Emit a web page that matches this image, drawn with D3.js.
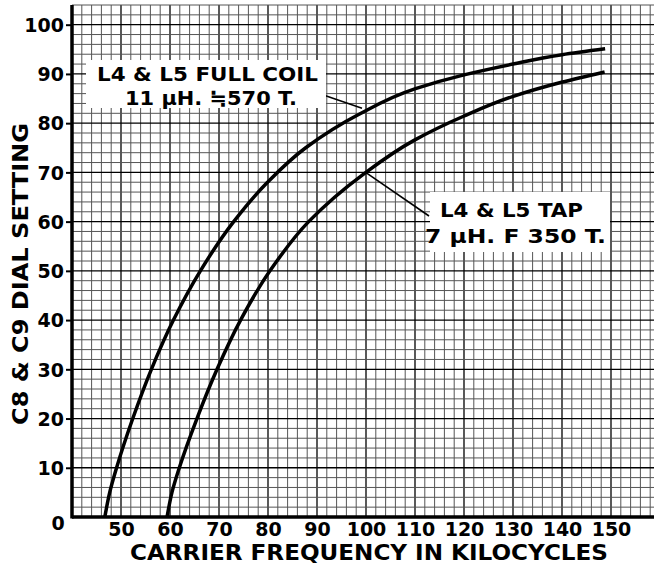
<!DOCTYPE html>
<html><head><meta charset="utf-8">
<script src="https://cdn.jsdelivr.net/npm/d3@7"></script>
<style>body{margin:0;background:#fff}svg{display:block}text{font-family:"DejaVu Sans",sans-serif;font-weight:bold;fill:#000}</style>
</head><body><div id="chart"></div>
<script>
// Data
const fullCoilFreq = [46.7, 47.7, 49.1, 52.4, 56.2, 60.7, 66.2, 73.0, 79.9, 87.7, 98.4, 110.1, 120, 130, 140, 148.8];
const fullCoilDial = [0, 5, 10, 20, 30, 40, 50, 60, 68, 75, 81.7, 87.0, 89.8, 92.0, 93.9, 95.1];
const tapFreq = [59.4, 60.4, 61.9, 65.5, 69.6, 74.4, 80.4, 88.3, 99.3, 109.8, 119.9, 129.9, 139.9, 148.7];
const tapDial = [0, 5, 10, 20, 30, 40, 50, 60, 69.5, 76.5, 81.4, 85.4, 88.3, 90.4];
const xTicks = [50, 60, 70, 80, 90, 100, 110, 120, 130, 140, 150];
const yTicks = [10, 20, 30, 40, 50, 60, 70, 80, 90, 100];
const fullCoilLabel = ["L4 & L5 FULL COIL", "11 μH. ≒570 T."];
const tapLabel = ["L4 & L5 TAP", "7 μH. F 350 T."];
const xTitle = "CARRIER FREQUENCY IN KILOCYCLES";
const yTitle = "C8 & C9 DIAL SETTING";

const W = 654, H = 570;
const svg = d3.select("#chart").append("svg").attr("width", W).attr("height", H);
const x = d3.scaleLinear().domain([40, 160]).range([72, 660]);
const y = d3.scaleLinear().domain([0, 104]).range([517, 5]);

// grid
const g = svg.append("g");
const vx = d3.range(40, 161, 2), hy = d3.range(0, 105, 2);
g.selectAll(".v").data(vx).join("line")
  .attr("x1", d => x(d)).attr("x2", d => x(d)).attr("y1", y(104)).attr("y2", y(0))
  .attr("stroke", d => d % 10 === 0 ? "#000" : "#555")
  .attr("stroke-width", d => d % 10 === 0 ? 1.3 : 1);
g.selectAll(".h").data(hy).join("line")
  .attr("y1", d => y(d)).attr("y2", d => y(d)).attr("x1", x(40)).attr("x2", W)
  .attr("stroke", d => d % 10 === 0 ? "#000" : "#555")
  .attr("stroke-width", d => d % 10 === 0 ? 1.3 : 1);

// axes
const ya = svg.append("g").attr("transform", `translate(${x(40)},0)`)
  .call(d3.axisLeft(y).tickValues(yTicks).tickSize(6).tickPadding(2));
ya.select(".domain").remove();
ya.selectAll(".tick line").attr("stroke", "#000").attr("stroke-width", 2);
ya.selectAll(".tick text").style("font-size", "19px").attr("dy", "0.36em");
const xa = svg.append("g").attr("transform", `translate(0,${y(0)})`)
  .call(d3.axisBottom(x).tickValues(xTicks).tickSize(0).tickPadding(6));
xa.select(".domain").remove();
xa.selectAll(".tick text").style("font-size", "19px");
svg.append("text").attr("x", 58).attr("y", 530).attr("text-anchor", "middle").style("font-size", "19px").text("0");

svg.append("line").attr("x1", x(40)).attr("x2", x(40)).attr("y1", y(104)).attr("y2", y(0) + 1.5).attr("stroke", "#000").attr("stroke-width", 3.5);
svg.append("line").attr("x1", x(40)).attr("x2", W).attr("y1", y(0)).attr("y2", y(0)).attr("stroke", "#000").attr("stroke-width", 3.5);

// curves
const line = d3.line().x(d => x(d[0])).y(d => y(d[1])).curve(d3.curveMonotoneY);
svg.append("path").datum(fullCoilFreq.map((f, i) => [f, fullCoilDial[i]]))
  .attr("d", line).attr("fill", "none").attr("stroke", "#000").attr("stroke-width", 3.5);
svg.append("path").datum(tapFreq.map((f, i) => [f, tapDial[i]]))
  .attr("d", line).attr("fill", "none").attr("stroke", "#000").attr("stroke-width", 3.5);

// annotations
function interp(fs, vs, f) { return d3.scaleLinear().domain(fs).range(vs)(f); }
const a1 = [x(100), y(interp(fullCoilFreq, fullCoilDial, 100))];
const a2 = [x(100), y(interp(tapFreq, tapDial, 100))];
svg.append("line").attr("x1", 306).attr("y1", 89).attr("x2", a1[0] - 4).attr("y2", a1[1] - 3).attr("stroke", "#000").attr("stroke-width", 1.6);
svg.append("line").attr("x1", a2[0]).attr("y1", a2[1]).attr("x2", 429).attr("y2", 216).attr("stroke", "#000").attr("stroke-width", 1.6);

svg.append("rect").attr("x", 86).attr("y", 60).attr("width", 240).attr("height", 48).attr("fill", "#fff");
svg.append("rect").attr("x", 430).attr("y", 192).attr("width", 180).attr("height", 60).attr("fill", "#fff");

function label(t, xx, yy, len, size) {
  svg.append("text").attr("x", xx).attr("y", yy).attr("textLength", len).attr("lengthAdjust", "spacingAndGlyphs")
    .style("font-size", size + "px").text(t);
}
label(fullCoilLabel[0], 97, 81, 221, 20);
label(fullCoilLabel[1], 125, 105, 172, 20);
label(tapLabel[0], 440, 217, 143, 20);
label(tapLabel[1], 425, 243, 181, 20);

// titles
svg.append("text").attr("x", 130).attr("y", 560).attr("textLength", 478).attr("lengthAdjust", "spacingAndGlyphs")
  .style("font-size", "22px").text(xTitle);
svg.append("text").attr("transform", "translate(28,425) rotate(-90)").attr("textLength", 302).attr("lengthAdjust", "spacingAndGlyphs")
  .style("font-size", "22px").text(yTitle);
</script></body></html>
